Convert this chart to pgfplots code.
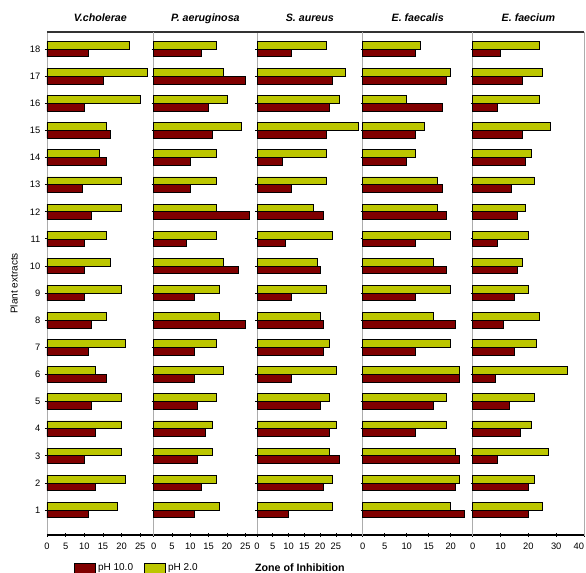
\documentclass[border=0pt]{standalone}
\usepackage{fontspec}
\setmainfont{Liberation Sans}
\usepackage{pgfplots}
\pgfplotsset{compat=1.18}
\usepackage{pgfplotstable}
\definecolor{phten}{RGB}{128,0,0}
\definecolor{phtwo}{RGB}{188,198,0}

\pgfplotstableread{
cat vc10 vc2 pa10 pa2 sa10 sa2 fs10 fs2 fm10 fm2
1  11  19 11 18 10 24 23 20 20 25
2  13  21 13 17 21 24 21 22 20 22
3  10  20 12 16 26 23 22 21 9  27
4  13  20 14 16 23 25 12 19 17 21
5  12  20 12 17 20 23 16 19 13 22
6  16  13 11 19 11 25 22 22 8  34
7  11  21 11 17 21 23 12 20 15 23
8  12  16 25 18 21 20 21 16 11 24
9  10  20 11 18 11 22 12 20 15 20
10 10  17 23 19 20 19 19 16 16 18
11 10  16 9  17 9  24 12 20 9  20
12 12  20 26 17 21 18 19 17 16 19
13 9.5 20 10 17 11 22 18 17 14 22
14 16  14 10 17 8  22 10 12 19 21
15 17  16 16 24 22 32 12 14 18 28
16 10  25 15 20 23 26 18 10 9  24
17 15  27 25 19 24 28 19 20 18 25
18 11  22 13 17 11 22 12 13 10 24
}\data

\pgfplotsset{
  panel/.style={
    xbar, scale only axis, height=377.25pt, clip=false,
    ymin=0.08, ymax=18.63, xmin=0,
    ytick={1,...,18}, ytick pos=left, xtick pos=bottom,
    axis line style={draw=gray!65, line width=0.6pt},
    tick style={black, line width=0.6pt},
    major tick length=3pt, tick align=center,
    /pgf/number format/assume math mode=true,
    ticklabel style={font=\fontsize{7}{8}\selectfont},
    xticklabel style={yshift=-1pt},
    bar width=5.8pt,
    title style={font=\fontsize{8}{9}\selectfont\bfseries\itshape, yshift=-3.5pt,
      text height=6pt, text depth=2pt},
    anchor=south west,
  },
  red bars/.style={fill=phten, draw=black, line width=0.55pt, bar shift=-2.9pt},
  yel bars/.style={fill=phtwo, draw=black, line width=0.55pt, bar shift=2.9pt},
}

\begin{document}
\begin{tikzpicture}
% Panel 1
\begin{axis}[panel, at={(0pt,0pt)}, width=80pt, xmax=28.6,
  xtick={0,5,...,25}, title={V.cholerae},
  legend columns=2,
  legend style={draw=none, fill=none, font=\fontsize{7.5}{8}\selectfont,
    at={(0.21,-0.0656)}, anchor=west,
    /tikz/every even column/.append style={column sep=6pt}},
  legend image code/.code={\draw[#1] (0pt,-3.75pt) rectangle (15.75pt,3.75pt);},
]
\addplot[red bars] table[x=vc10, y=cat]{\data};
\addlegendentry{pH 10.0}
\addplot[yel bars] table[x=vc2, y=cat]{\data};
\addlegendentry{pH 2.0}
\draw[black, line width=1.1pt] (rel axis cs:0,0) -- (rel axis cs:1,0);
\draw[gray!40!black, line width=0.8pt] (rel axis cs:0,1) -- (rel axis cs:1,1);
\node[rotate=90, font=\fontsize{7.5}{8}\selectfont] at (rel axis cs:-0.31,0.5) {Plant extracts};
\node[font=\fontsize{8}{9}\selectfont\bfseries] at (rel axis cs:2.37,-0.0656) {Zone of Inhibition};
\end{axis}
% Panel 2
\begin{axis}[panel, at={(80pt,0pt)}, width=77.5pt, xmax=28.2,
  xtick={0,5,...,25}, yticklabels={}, title={P. aeruginosa}]
\addplot[red bars] table[x=pa10, y=cat]{\data};
\addplot[yel bars] table[x=pa2, y=cat]{\data};
\draw[black, line width=1.1pt] (rel axis cs:0,0) -- (rel axis cs:1,0);
\draw[gray!40!black, line width=0.8pt] (rel axis cs:0,1) -- (rel axis cs:1,1);
\end{axis}
% Panel 3
\begin{axis}[panel, at={(157.5pt,0pt)}, width=79.3pt, xmax=33.5,
  xtick={0,5,...,30}, xticklabels={0,5,10,15,20,25,{}}, yticklabels={}, title={S. aureus}]
\addplot[red bars] table[x=sa10, y=cat]{\data};
\addplot[yel bars] table[x=sa2, y=cat]{\data};
\draw[black, line width=1.1pt] (rel axis cs:0,0) -- (rel axis cs:1,0);
\draw[gray!40!black, line width=0.8pt] (rel axis cs:0,1) -- (rel axis cs:1,1);
\end{axis}
% Panel 4
\begin{axis}[panel, at={(236.8pt,0pt)}, width=82.5pt, xmax=25,
  xtick={0,5,...,25}, xticklabels={0,5,10,15,20,{}}, yticklabels={}, title={E. faecalis}]
\addplot[red bars] table[x=fs10, y=cat]{\data};
\addplot[yel bars] table[x=fs2, y=cat]{\data};
\draw[black, line width=1.1pt] (rel axis cs:0,0) -- (rel axis cs:1,0);
\draw[gray!40!black, line width=0.8pt] (rel axis cs:0,1) -- (rel axis cs:1,1);
\end{axis}
% Panel 5
\begin{axis}[panel, at={(319.3pt,0pt)}, width=83.5pt, xmax=40,
  xtick={0,10,...,40}, xticklabels={0,10,20,30,{\makebox[0pt][r]{40}}},
  yticklabels={}, title={E. faecium}]
\addplot[red bars] table[x=fm10, y=cat]{\data};
\addplot[yel bars] table[x=fm2, y=cat]{\data};
\draw[black, line width=1.1pt] (rel axis cs:0,0) -- (rel axis cs:1,0);
\draw[gray!40!black, line width=0.8pt] (rel axis cs:0,1) -- (rel axis cs:1,1);
\end{axis}
\pgfresetboundingbox
\path (-35.25pt,-28.5pt) rectangle (404.25pt,401.25pt);
\end{tikzpicture}
\end{document}
